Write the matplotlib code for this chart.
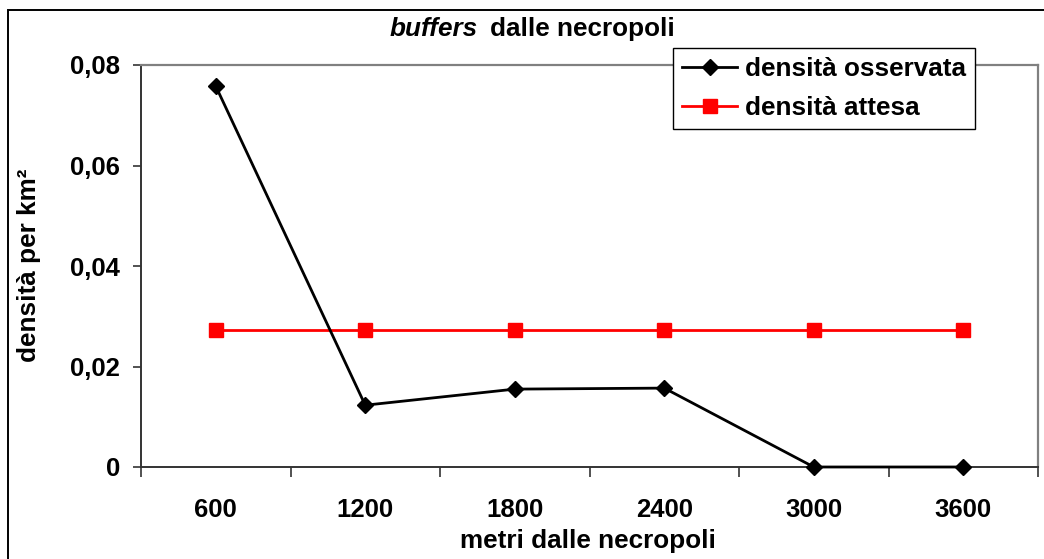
import matplotlib
matplotlib.use("Agg")
import matplotlib.pyplot as plt
from matplotlib.patches import Rectangle
from matplotlib.ticker import FixedLocator, FuncFormatter

# ---- data ----
categories = ["600", "1200", "1800", "2400", "3000", "3600"]
observed = [0.0758, 0.0123, 0.0155, 0.0157, 0.0, 0.0]
expected = [0.0272, 0.0272, 0.0272, 0.0272, 0.0272, 0.0272]
y_ticks = [0.0, 0.02, 0.04, 0.06, 0.08]
series_names = ["densità osservata", "densità attesa"]
title_italic = "buffers"
title_rest = "dalle necropoli"
x_label = "metri dalle necropoli"
y_label = "densità per km²"

plt.rcParams["font.family"] = ["Liberation Sans", "DejaVu Sans"]
plt.rcParams["font.weight"] = "bold"

W, H = 1044, 559
fig = plt.figure(figsize=(W / 100, H / 100), dpi=100)
fig.patch.set_facecolor("white")

# outer chart frame (extends beyond image on right/bottom)
fig.patches.append(Rectangle((8 / W, -0.05), 1.2, 1 - 10 / H + 0.05,
                             transform=fig.transFigure, fill=False,
                             edgecolor="black", linewidth=1.4, zorder=0))

ax = fig.add_axes([141 / W, 1 - 467 / H, (1038 - 141) / W, (467 - 65) / H])
l1, = ax.plot(categories, observed, color="black", lw=2.0, marker="D",
              markersize=8.5, markerfacecolor="black", markeredgecolor="black",
              zorder=4, clip_on=False)
l2, = ax.plot(categories, expected, color="#ff0000", lw=2.0, marker="s",
              markersize=10.5, markerfacecolor="#ff0000", markeredgecolor="#ff0000",
              zorder=3, clip_on=False)

ax.set_xlim(-0.5, len(categories) - 0.5)
ax.set_ylim(0, 0.08)

ax.yaxis.set_major_locator(FixedLocator(y_ticks))
ax.yaxis.set_major_formatter(FuncFormatter(
    lambda v, p: "0" if v == 0 else f"{v:.2f}".replace(".", ",")))
ax.tick_params(axis="y", which="major", length=6, width=1.2, pad=9,
               labelsize=18.5, direction="out", color="#333333")

ax.xaxis.set_minor_locator(FixedLocator([i - 0.5 for i in range(len(categories) + 1)]))
ax.tick_params(axis="x", which="major", length=0, pad=22, labelsize=18.5)
ax.tick_params(axis="x", which="minor", length=7, width=1.2, direction="out",
               color="#333333")
for lab in ax.get_xticklabels() + ax.get_yticklabels():
    lab.set_fontweight("bold")

for side in ["top", "right"]:
    ax.spines[side].set_color("#808080")
    ax.spines[side].set_linewidth(1.6)
for side in ["left", "bottom"]:
    ax.spines[side].set_color("#333333")
    ax.spines[side].set_linewidth(1.4)

# titles and labels
fig.text(478 / W, 1 - 36 / H, title_italic, ha="right", va="baseline",
         fontsize=18.8, fontweight="bold", fontstyle="italic")
fig.text(490 / W, 1 - 36 / H, title_rest, ha="left", va="baseline",
         fontsize=18.8, fontweight="bold")
fig.text(588 / W, 1 - 548 / H, x_label, ha="center", va="baseline",
         fontsize=18.8, fontweight="bold")
fig.text(29 / W, 1 - 265 / H, y_label, ha="center", va="center",
         rotation=90, fontsize=18.8, fontweight="bold")

leg = fig.legend([l1, l2], series_names, loc="upper left",
                 bbox_to_anchor=(673 / W, 1 - 48 / H),
                 bbox_transform=fig.transFigure,
                 prop={"size": 18.8, "weight": "bold"},
                 frameon=True, fancybox=False, shadow=False,
                 handlelength=2.1, handletextpad=0.3, borderpad=0.35,
                 labelspacing=0.58, borderaxespad=0)
leg.get_frame().set_edgecolor("black")
leg.get_frame().set_linewidth(1.0)
leg.get_frame().set_facecolor("white")
leg.get_frame().set_alpha(1)
leg.set_zorder(10)

fig.savefig("out.png", dpi=100)
